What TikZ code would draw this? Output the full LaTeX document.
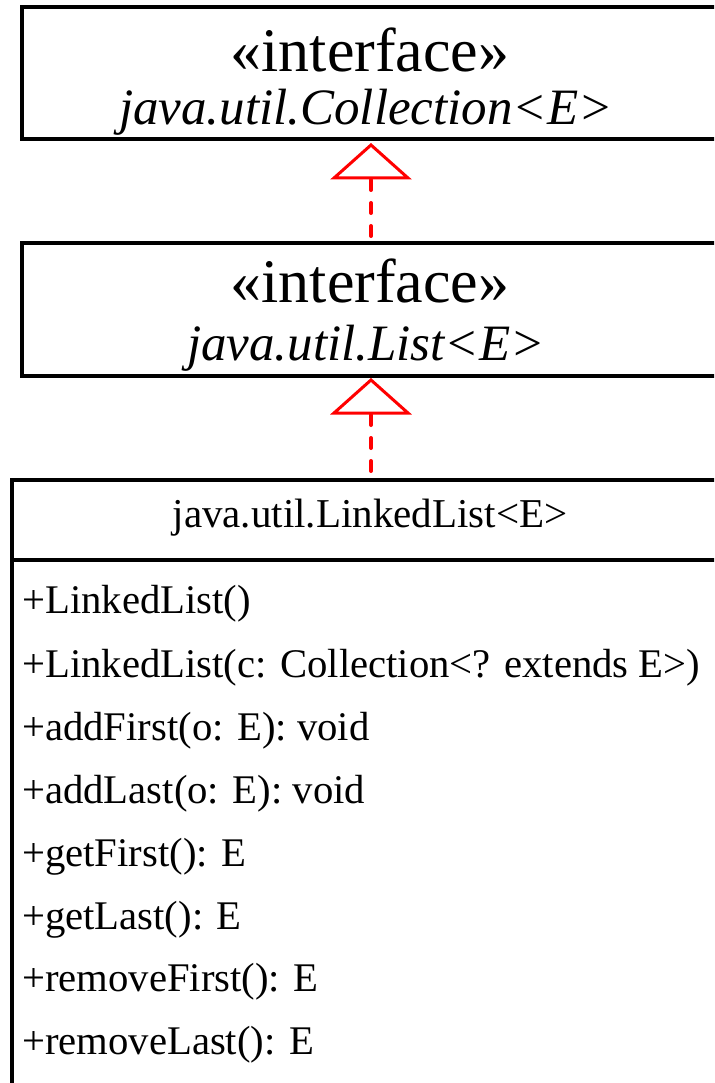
\documentclass[tikz,border=0pt]{standalone}
\usepackage{fontspec}
\setmainfont{Liberation Serif}
\usetikzlibrary{arrows.meta}
\begin{document}
\begin{tikzpicture}[x=1pt,y=-1pt,
  box/.style={draw=black,line width=4pt},
  real/.style={draw=red,line width=4pt,line cap=round,dash pattern=on 10pt off 13pt},
  tri/.style={draw=red,line width=3pt,fill=white,line join=miter},
  big/.style={font=\fontsize{62}{64}\selectfont,anchor=base,inner sep=0pt},
  bigit/.style={font=\fontsize{51}{53}\selectfont\itshape,anchor=base,inner sep=0pt},
  title/.style={font=\fontsize{41}{43}\selectfont,anchor=base,inner sep=0pt},
  meth/.style={font=\fontsize{40.7}{42}\selectfont,anchor=base west,inner sep=0pt}]
\useasboundingbox (0,0) rectangle (714,1083);
\clip (0,0) rectangle (714,1083);
\fill[white] (0,0) rectangle (714,1083);
% box 1
\draw[box] (22,7) rectangle (760,139);
\node[big] (s1) at (370,72) {«interface»};
\node[bigit] (n1) at (366,125) {java.util.Collection<E>};
% box 2
\draw[box] (22,243) rectangle (760,376);
\node[big] (s2) at (370,302) {«interface»};
\node[bigit] (n2) at (366,360) {java.util.List<E>};
% box 3
\draw[box] (12,480) rectangle (760,1120);
\draw[box] (12,560) -- (760,560);
\node[title] (t3) at (370,527) {java.util.LinkedList<E>};
\node[meth] (m1) at (22,613) {+LinkedList()};
\node[meth] (m2) at (22,677) {+LinkedList(c: Collection<? extends E>)};
\node[meth] (m3) at (22,740) {+addFirst(o: E): void};
\node[meth] (m4) at (22,803) {+addLast(o: E): void};
\node[meth] (m5) at (22,866) {+getFirst(): E};
\node[meth] (m6) at (22,929) {+getLast(): E};
\node[meth] (m7) at (22,991) {+removeFirst(): E};
\node[meth] (m8) at (22,1054) {+removeLast(): E};
% connectors
\coordinate (a1) at (371,145);
\coordinate (b1) at (371,180);
\coordinate (c1) at (371,243);
\draw[real] (b1) -- (c1);
\draw[tri] (a1) -- (408,178) -- (334,178) -- cycle;
\coordinate (a2) at (371,380);
\coordinate (b2) at (371,415);
\coordinate (c2) at (371,482);
\draw[real] (b2) -- (c2);
\draw[tri] (a2) -- (408,413) -- (334,413) -- cycle;
\end{tikzpicture}
\end{document}
